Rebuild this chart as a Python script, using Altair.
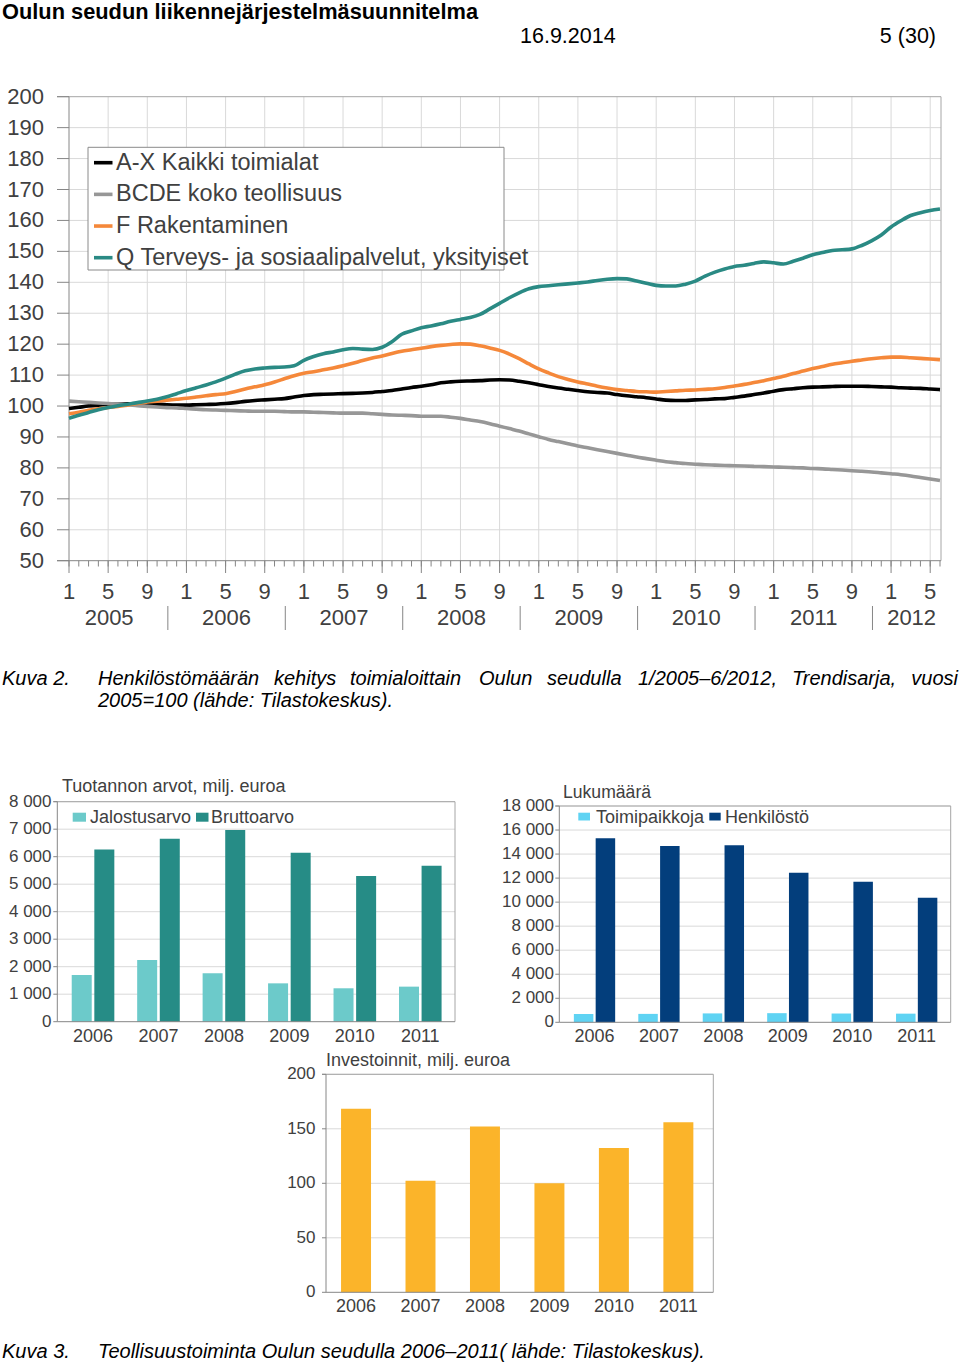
import altair as alt
import pandas as pd

# ---------------- data: top line chart (monthly, 1/2005 - 6/2012) ----------------
month_index = list(range(90))
ax_all = [99.2, 99.6, 100.0, 100.3, 100.5, 100.6, 100.7, 100.8, 100.8, 100.6,
          100.4, 100.3, 100.3, 100.4, 100.5, 100.6, 100.8, 101.1, 101.5, 101.8,
          102.0, 102.2, 102.4, 102.9, 103.4, 103.7, 103.8, 103.9, 104.0, 104.1,
          104.2, 104.4, 104.7, 105.0, 105.5, 106.0, 106.4, 106.9, 107.5, 107.8,
          108.0, 108.1, 108.2, 108.4, 108.5, 108.4, 108.0, 107.5, 106.9, 106.3,
          105.8, 105.4, 105.0, 104.6, 104.4, 104.2, 103.7, 103.3, 103.0, 102.7,
          102.3, 101.9, 101.8, 101.8, 102.0, 102.1, 102.3, 102.4, 102.8, 103.2,
          103.7, 104.2, 104.8, 105.3, 105.6, 105.9, 106.1, 106.2, 106.3, 106.4,
          106.4, 106.4, 106.3, 106.2, 106.1, 105.9, 105.8, 105.7, 105.5, 105.3]
bcde = [101.6, 101.4, 101.2, 101.0, 100.8, 100.6, 100.4, 100.1, 99.9, 99.7,
        99.5, 99.4, 99.2, 99.0, 98.8, 98.7, 98.6, 98.5, 98.4, 98.3,
        98.3, 98.3, 98.2, 98.1, 98.1, 98.0, 97.9, 97.8, 97.7, 97.7,
        97.7, 97.5, 97.3, 97.1, 97.0, 96.9, 96.7, 96.7, 96.7, 96.4,
        96.0, 95.5, 95.0, 94.3, 93.5, 92.7, 91.9, 91.0, 90.1, 89.2,
        88.5, 87.8, 87.1, 86.5, 85.9, 85.3, 84.7, 84.1, 83.5, 83.0,
        82.5, 82.0, 81.7, 81.4, 81.2, 81.0, 80.9, 80.8, 80.7, 80.6,
        80.5, 80.4, 80.3, 80.2, 80.1, 80.0, 79.8, 79.7, 79.5, 79.3,
        79.1, 78.9, 78.7, 78.4, 78.1, 77.8, 77.4, 76.9, 76.4, 75.9]
f_rak = [97.5, 98.0, 98.6, 99.1, 99.5, 99.9, 100.3, 100.8, 101.3, 101.6,
         101.9, 102.2, 102.5, 102.9, 103.3, 103.7, 104.0, 104.7, 105.5, 106.2,
         106.9, 107.8, 108.8, 109.8, 110.6, 111.1, 111.7, 112.3, 113.0, 113.8,
         114.7, 115.5, 116.2, 117.0, 117.7, 118.2, 118.7, 119.2, 119.6, 119.9,
         120.1, 120.0, 119.5, 118.8, 118.0, 116.8, 115.3, 113.6, 112.0, 110.7,
         109.5, 108.6, 107.8, 107.1, 106.4, 105.8, 105.3, 105.0, 104.7, 104.6,
         104.5, 104.7, 104.9, 105.1, 105.2, 105.4, 105.6, 106.0, 106.5, 107.0,
         107.6, 108.2, 108.9, 109.6, 110.5, 111.3, 112.1, 112.8, 113.5, 114.0,
         114.5, 114.9, 115.3, 115.6, 115.8, 115.8, 115.6, 115.4, 115.2, 115.0]
q_terv = [96.0, 97.0, 97.9, 98.8, 99.5, 100.1, 100.6, 101.1, 101.6, 102.2,
          103.0, 104.0, 105.0, 105.9, 106.8, 107.8, 109.0, 110.3, 111.4, 112.0,
          112.3, 112.5, 112.6, 113.0, 114.8, 116.0, 116.9, 117.5, 118.2, 118.6,
          118.4, 118.3, 119.0, 120.8, 123.2, 124.3, 125.3, 125.9, 126.6, 127.4,
          128.0, 128.6, 129.6, 131.4, 133.2, 135.0, 136.6, 137.9, 138.6, 138.9,
          139.2, 139.5, 139.8, 140.1, 140.6, 141.0, 141.2, 141.1, 140.4, 139.7,
          139.0, 138.8, 138.8, 139.4, 140.4, 142.0, 143.3, 144.3, 145.1, 145.5,
          146.1, 146.6, 146.3, 145.9, 146.8, 147.8, 148.9, 149.6, 150.3, 150.5,
          150.8, 151.9, 153.4, 155.3, 157.9, 159.9, 161.6, 162.5, 163.2, 163.7]
series_names = ["A-X Kaikki toimialat", "BCDE koko teollisuus", "F Rakentaminen",
                "Q Terveys- ja sosiaalipalvelut, yksityiset"]
series_colors = ["#000000", "#979797", "#f5883a", "#2a8a84"]
y_ticks_top = list(range(50, 201, 10))
month_tick_pos = list(range(0, 89, 4))
month_tick_labels = ["1", "5", "9"] * 7 + ["1", "5"]
year_labels = ["2005", "2006", "2007", "2008", "2009", "2010", "2011", "2012"]
year_label_pos = [4.1, 16.1, 28.1, 40.1, 52.1, 64.1, 76.1, 86.1]
year_sep_pos = [10.1, 22.1, 34.1, 46.1, 58.1, 70.1, 82.1]

# ---------------- data: bar charts ----------------
years = ["2006", "2007", "2008", "2009", "2010", "2011"]
prod_names = ["Jalostusarvo", "Bruttoarvo"]
prod_colors = ["#6ccaca", "#268c86"]
jalostusarvo = [1700, 2240, 1760, 1395, 1215, 1275]
bruttoarvo = [6265, 6655, 6970, 6145, 5295, 5675]
count_names = ["Toimipaikkoja", "Henkilöstö"]
count_colors = ["#5fd3f3", "#033e7c"]
toimipaikkoja = [690, 700, 740, 760, 730, 720]
henkilosto = [15310, 14670, 14730, 12450, 11700, 10370]
invest_color = "#fbb42a"
investoinnit = [168.5, 102.4, 152.0, 100.0, 132.4, 156.0]
a_ticks = [0, 1000, 2000, 3000, 4000, 5000, 6000, 7000, 8000]
a_tick_labels = ["0", "1 000", "2 000", "3 000", "4 000", "5 000", "6 000", "7 000", "8 000"]
b_ticks = [0, 2000, 4000, 6000, 8000, 10000, 12000, 14000, 16000, 18000]
b_tick_labels = ["0", "2 000", "4 000", "6 000", "8 000", "10 000", "12 000", "14 000", "16 000", "18 000"]
c_ticks = [0, 50, 100, 150, 200]
c_tick_labels = ["0", "50", "100", "150", "200"]

caption2_words = ["Henkilöstömäärän", "kehitys", "toimialoittain", "Oulun", "seudulla",
                  "1/2005–6/2012,", "Trendisarja,", "vuosi"]
caption2_word_x = [98, 274, 350, 479, 547, 638, 792, 958]

# ---------------- style ----------------
FONT = "Liberation Sans, Arial, sans-serif"
TXT = "#404040"
GRID = "#d9d9d9"
FRAME = "#a6a6a6"
AXIS = "#868686"
one = pd.DataFrame({"a": [0]})


def hline(x1, x2, y, color, w=1.0):
    return alt.Chart(one).mark_rule(color=color, strokeWidth=w).encode(
        x=alt.value(x1), x2=alt.value(x2), y=alt.value(y))


def vline(x, y1, y2, color, w=1.0):
    return alt.Chart(one).mark_rule(color=color, strokeWidth=w).encode(
        x=alt.value(x), y=alt.value(y1), y2=alt.value(y2))


def text(s, x, y, size, align="left", weight="normal", style="normal", color="black"):
    return alt.Chart(pd.DataFrame({"t": [s]})).mark_text(
        align=align, baseline="middle", fontSize=size, font=FONT,
        fontWeight=weight, fontStyle=style, color=color).encode(
        x=alt.value(x), y=alt.value(y), text="t:N")


def box(x1, x2, y1, y2, color):
    return alt.Chart(one).mark_rect(color=color).encode(
        x=alt.value(x1), x2=alt.value(x2), y=alt.value(y1), y2=alt.value(y2))


layers = []

# ---------------- header ----------------
layers.append(text("Oulun seudun liikennejärjestelmäsuunnitelma", 2, 12, 21.8, weight="bold"))
layers.append(text("16.9.2014", 520, 37, 21.5))
layers.append(text("5 (30)", 936, 37, 21.5, align="right"))

# ---------------- top line chart ----------------
XT = dict(domain=[0, 89], range=[69, 940], nice=False, zero=False)
YT = dict(domain=[50, 200], range=[560.7, 96.7], nice=False, zero=False)
T_TOP, T_BOT, T_LEFT, T_RIGHT = 96.7, 560.7, 69, 941

df_hgrid = pd.DataFrame({"v": y_ticks_top[1:-1]})
layers.append(alt.Chart(df_hgrid).mark_rule(color=GRID).encode(
    y=alt.Y("v:Q", scale=alt.Scale(**YT), axis=None),
    x=alt.value(T_LEFT), x2=alt.value(T_RIGHT)))
df_vgrid = pd.DataFrame({"i": month_tick_pos[1:]})
layers.append(alt.Chart(df_vgrid).mark_rule(color=GRID).encode(
    x=alt.X("i:Q", scale=alt.Scale(**XT), axis=None),
    y=alt.value(T_TOP), y2=alt.value(T_BOT)))
layers.append(hline(57, T_RIGHT, T_TOP, FRAME))
layers.append(vline(T_RIGHT, T_TOP, T_BOT, FRAME))
df_yt = pd.DataFrame({"v": y_ticks_top, "lab": [str(v) for v in y_ticks_top]})
layers.append(alt.Chart(df_yt).mark_rule(color=AXIS).encode(
    y=alt.Y("v:Q", scale=alt.Scale(**YT), axis=None),
    x=alt.value(57), x2=alt.value(T_LEFT)))
layers.append(alt.Chart(df_yt).mark_text(align="right", baseline="middle", fontSize=22,
                                          font=FONT, color=TXT).encode(
    y=alt.Y("v:Q", scale=alt.Scale(**YT), axis=None),
    x=alt.value(44), text="lab:N"))
df_minor = pd.DataFrame({"i": month_index})
layers.append(alt.Chart(df_minor).mark_rule(color=AXIS).encode(
    x=alt.X("i:Q", scale=alt.Scale(**XT), axis=None),
    y=alt.value(T_BOT), y2=alt.value(566.5)))
df_major = pd.DataFrame({"i": month_tick_pos, "lab": month_tick_labels})
layers.append(alt.Chart(df_major).mark_rule(color=AXIS).encode(
    x=alt.X("i:Q", scale=alt.Scale(**XT), axis=None),
    y=alt.value(T_BOT), y2=alt.value(573)))
layers.append(alt.Chart(df_major).mark_text(align="center", baseline="middle", fontSize=22,
                                             font=FONT, color=TXT).encode(
    x=alt.X("i:Q", scale=alt.Scale(**XT), axis=None),
    y=alt.value(591.5), text="lab:N"))
df_years = pd.DataFrame({"i": year_label_pos, "lab": year_labels})
layers.append(alt.Chart(df_years).mark_text(align="center", baseline="middle", fontSize=22,
                                             font=FONT, color=TXT).encode(
    x=alt.X("i:Q", scale=alt.Scale(**XT), axis=None),
    y=alt.value(617.5), text="lab:N"))
df_sep = pd.DataFrame({"i": year_sep_pos})
layers.append(alt.Chart(df_sep).mark_rule(color=AXIS).encode(
    x=alt.X("i:Q", scale=alt.Scale(**XT), axis=None),
    y=alt.value(606), y2=alt.value(630)))
layers.append(vline(T_LEFT, T_TOP, T_BOT, AXIS))
layers.append(hline(57, T_RIGHT, T_BOT, AXIS))

rows = []
for name, vals in zip(series_names, [ax_all, bcde, f_rak, q_terv]):
    for i, v in zip(month_index, vals):
        rows.append({"i": i, "v": v, "s": name})
df_lines = pd.DataFrame(rows)
layers.append(alt.Chart(df_lines).mark_line(strokeWidth=3.6, interpolate="monotone").encode(
    x=alt.X("i:Q", scale=alt.Scale(**XT), axis=None),
    y=alt.Y("v:Q", scale=alt.Scale(**YT), axis=None),
    color=alt.Color("s:N", scale=alt.Scale(domain=series_names, range=series_colors), legend=None),
    detail="s:N"))

# legend
layers.append(alt.Chart(one).mark_rect(fill="white", stroke="#8a8a8a", strokeWidth=1).encode(
    x=alt.value(88), x2=alt.value(504), y=alt.value(147.3), y2=alt.value(270)))
df_leg = pd.DataFrame({"s": series_names})
LEG_Y = alt.Scale(type="point", domain=series_names, range=[162.7, 257.7], padding=0)
layers.append(alt.Chart(df_leg).mark_rule(strokeWidth=3.6).encode(
    y=alt.Y("s:N", scale=LEG_Y, axis=None),
    x=alt.value(94), x2=alt.value(112.5),
    color=alt.Color("s:N", scale=alt.Scale(domain=series_names, range=series_colors), legend=None)))
layers.append(alt.Chart(df_leg).mark_text(align="left", baseline="middle", fontSize=23.5,
                                           font=FONT, color=TXT).encode(
    y=alt.Y("s:N", scale=LEG_Y, axis=None),
    x=alt.value(116), text="s:N"))

# caption 2
layers.append(text("Kuva 2.", 2, 679, 20, style="italic"))
df_cap = pd.DataFrame({"w": caption2_words, "x": caption2_word_x,
                       "al": ["l"] * 7 + ["r"]})
layers.append(alt.Chart(df_cap[df_cap.al == "l"]).mark_text(
    align="left", baseline="middle", fontSize=20, font=FONT, fontStyle="italic", color="black").encode(
    x=alt.X("x:Q", scale=alt.Scale(domain=[0, 960], range=[0, 960]), axis=None),
    y=alt.value(679), text="w:N"))
layers.append(alt.Chart(df_cap[df_cap.al == "r"]).mark_text(
    align="right", baseline="middle", fontSize=20, font=FONT, fontStyle="italic", color="black").encode(
    x=alt.X("x:Q", scale=alt.Scale(domain=[0, 960], range=[0, 960]), axis=None),
    y=alt.value(679), text="w:N"))
layers.append(text("2005=100 (lähde: Tilastokeskus).", 98, 701, 20, style="italic"))


# ---------------- bar panels ----------------
def panel(left, right, top, bottom, ydom, ticks, tick_labels, label_right, xlab_y,
          band_range, pad_in, title, title_x, title_y, title_size):
    ys = dict(domain=ydom, range=[bottom, top], nice=False, zero=True)
    out = []
    dft = pd.DataFrame({"v": ticks, "lab": tick_labels})
    out.append(alt.Chart(dft[dft.v > 0]).mark_rule(color=GRID).encode(
        y=alt.Y("v:Q", scale=alt.Scale(**ys), axis=None),
        x=alt.value(left), x2=alt.value(right)))
    out.append(hline(left - 4, right, top, FRAME))
    out.append(vline(right, top, bottom, FRAME))
    out.append(alt.Chart(dft).mark_rule(color=AXIS).encode(
        y=alt.Y("v:Q", scale=alt.Scale(**ys), axis=None),
        x=alt.value(left - 4), x2=alt.value(left)))
    out.append(alt.Chart(dft).mark_text(align="right", baseline="middle", fontSize=17,
                                         font=FONT, color=TXT).encode(
        y=alt.Y("v:Q", scale=alt.Scale(**ys), axis=None),
        x=alt.value(label_right), text="lab:N"))
    xs = dict(type="band", domain=years, range=band_range, paddingInner=pad_in,
              paddingOuter=pad_in / 2)
    out.append(alt.Chart(pd.DataFrame({"y": years})).mark_text(
        align="center", baseline="middle", fontSize=18, font=FONT, color=TXT).encode(
        x=alt.X("y:N", scale=alt.Scale(**xs), axis=None, bandPosition=0.5),
        y=alt.value(xlab_y), text="y:N"))
    out.append(text(title, title_x, title_y, title_size, color=TXT))
    return out, ys, xs


# panel A: Tuotannon arvot
pa, ysA, xsA = panel(57.3, 455, 801.7, 1021.7, [0, 8000], a_ticks, a_tick_labels, 51.5, 1037,
                     [60.3, 453], 0.349, "Tuotannon arvot, milj. euroa", 62, 787, 18)
layers += pa
df_a = pd.DataFrame({"year": years * 2, "s": [prod_names[0]] * 6 + [prod_names[1]] * 6,
                     "v": jalostusarvo + bruttoarvo})
layers.append(alt.Chart(df_a).mark_bar().encode(
    x=alt.X("year:N", scale=alt.Scale(**xsA), axis=None),
    xOffset=alt.XOffset("s:N", scale=alt.Scale(domain=prod_names, paddingInner=0.115, paddingOuter=0)),
    y=alt.Y("v:Q", scale=alt.Scale(**ysA), axis=None),
    color=alt.Color("s:N", scale=alt.Scale(domain=prod_names, range=prod_colors), legend=None)))
layers.append(vline(57.3, 801.7, 1021.7, AXIS))
layers.append(hline(57.3, 455, 1021.7, AXIS))
layers.append(box(72.7, 86, 812.7, 821.7, prod_colors[0]))
layers.append(text(prod_names[0], 90, 817.5, 18, color=TXT))
layers.append(box(196, 208.5, 812.7, 821.7, prod_colors[1]))
layers.append(text(prod_names[1], 211, 817.5, 18, color=TXT))

# panel B: Lukumäärä
pb, ysB, xsB = panel(559.3, 950.7, 806, 1022.3, [0, 18000], b_ticks, b_tick_labels, 554, 1037,
                     [562.3, 948.9], 0.359, "Lukumäärä", 563, 793, 17.6)
layers += pb
df_b = pd.DataFrame({"year": years * 2, "s": [count_names[0]] * 6 + [count_names[1]] * 6,
                     "v": toimipaikkoja + henkilosto})
layers.append(alt.Chart(df_b).mark_bar().encode(
    x=alt.X("year:N", scale=alt.Scale(**xsB), axis=None),
    xOffset=alt.XOffset("s:N", scale=alt.Scale(domain=count_names, paddingInner=0.1055, paddingOuter=0)),
    y=alt.Y("v:Q", scale=alt.Scale(**ysB), axis=None),
    color=alt.Color("s:N", scale=alt.Scale(domain=count_names, range=count_colors), legend=None)))
layers.append(vline(559.3, 806, 1022.3, AXIS))
layers.append(hline(559.3, 950.7, 1022.3, AXIS))
layers.append(box(578.3, 590, 812.7, 820.5, count_colors[0]))
layers.append(text(count_names[0], 596, 817.5, 18, color=TXT))
layers.append(box(709.3, 720.7, 812.7, 820.5, count_colors[1]))
layers.append(text(count_names[1], 725, 817.5, 18, color=TXT))

# panel C: Investoinnit
pc, ysC, xsC = panel(326, 713.3, 1074.3, 1292.3, [0, 200], c_ticks, c_tick_labels, 315.5, 1307,
                     [323.8, 710.6], 0.535, "Investoinnit, milj. euroa", 326, 1061, 18)
layers += pc
df_c = pd.DataFrame({"year": years, "v": investoinnit})
layers.append(alt.Chart(df_c).mark_bar(color=invest_color).encode(
    x=alt.X("year:N", scale=alt.Scale(**xsC), axis=None),
    y=alt.Y("v:Q", scale=alt.Scale(**ysC), axis=None)))
layers.append(vline(326, 1074.3, 1292.3, AXIS))
layers.append(hline(326, 713.3, 1292.3, AXIS))

# caption 3
layers.append(text("Kuva 3.", 2, 1352, 20, style="italic"))
layers.append(text("Teollisuustoiminta Oulun seudulla 2006–2011( lähde: Tilastokeskus).", 98, 1352, 20,
                   style="italic"))

chart = alt.layer(*layers).resolve_scale(
    x="independent", y="independent", color="independent", xOffset="independent"
).properties(
    width=960, height=1364, padding=0, background="white",
    autosize=alt.AutoSizeParams(type="none")
).configure_view(stroke=None)

chart.save("out.html", embed_options={"renderer": "svg", "actions": False})
